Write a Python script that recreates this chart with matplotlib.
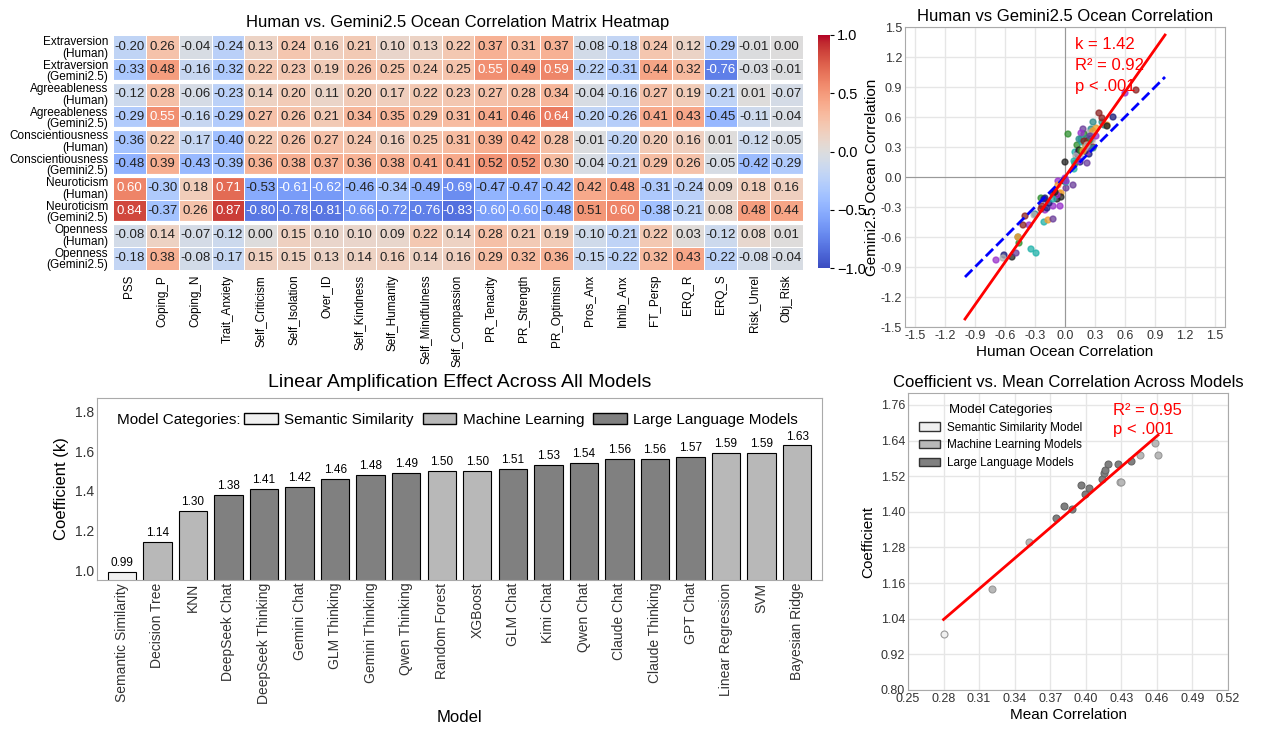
import numpy as np
import matplotlib.pyplot as plt
from matplotlib.patches import Patch

plt.rcParams["font.family"] = ["Liberation Sans", "DejaVu Sans"]

# ---- heatmap data ----
row_labels = ["Extraversion\n(Human)", "Extraversion\n(Gemini2.5)",
              "Agreeableness\n(Human)", "Agreeableness\n(Gemini2.5)",
              "Conscientiousness\n(Human)", "Conscientiousness\n(Gemini2.5)",
              "Neuroticism\n(Human)", "Neuroticism\n(Gemini2.5)",
              "Openness\n(Human)", "Openness\n(Gemini2.5)"]
col_labels = ["PSS", "Coping_P", "Coping_N", "Trait_Anxiety", "Self_Criticism",
              "Self_Isolation", "Over_ID", "Self_Kindness", "Self_Humanity",
              "Self_Mindfulness", "Self_Compassion", "PR_Tenacity", "PR_Strength",
              "PR_Optimism", "Pros_Anx", "Inhib_Anx", "FT_Persp", "ERQ_R", "ERQ_S",
              "Risk_Unrel", "Obj_Risk"]
heat = np.array([
    [-0.20, 0.26, -0.04, -0.24, 0.13, 0.24, 0.16, 0.21, 0.10, 0.13, 0.22, 0.37, 0.31, 0.37, -0.08, -0.18, 0.24, 0.12, -0.29, -0.01, 0.00],
    [-0.33, 0.48, -0.16, -0.32, 0.22, 0.23, 0.19, 0.26, 0.25, 0.24, 0.25, 0.55, 0.49, 0.59, -0.22, -0.31, 0.44, 0.32, -0.76, -0.03, -0.01],
    [-0.12, 0.28, -0.06, -0.23, 0.14, 0.20, 0.11, 0.20, 0.17, 0.22, 0.23, 0.27, 0.28, 0.34, -0.04, -0.16, 0.27, 0.19, -0.21, 0.01, -0.07],
    [-0.29, 0.55, -0.16, -0.29, 0.27, 0.26, 0.21, 0.34, 0.35, 0.29, 0.31, 0.41, 0.46, 0.64, -0.20, -0.26, 0.41, 0.43, -0.45, -0.11, -0.04],
    [-0.36, 0.22, -0.17, -0.40, 0.22, 0.26, 0.27, 0.24, 0.16, 0.25, 0.31, 0.39, 0.42, 0.28, -0.01, -0.20, 0.20, 0.16, 0.01, -0.12, -0.05],
    [-0.48, 0.39, -0.43, -0.39, 0.36, 0.38, 0.37, 0.36, 0.38, 0.41, 0.41, 0.52, 0.52, 0.30, -0.04, -0.21, 0.29, 0.26, -0.05, -0.42, -0.29],
    [0.60, -0.30, 0.18, 0.71, -0.53, -0.61, -0.62, -0.46, -0.34, -0.49, -0.69, -0.47, -0.47, -0.42, 0.42, 0.48, -0.31, -0.24, 0.09, 0.18, 0.16],
    [0.84, -0.37, 0.26, 0.87, -0.80, -0.78, -0.81, -0.66, -0.72, -0.76, -0.83, -0.60, -0.60, -0.48, 0.51, 0.60, -0.38, -0.21, 0.08, 0.48, 0.44],
    [-0.08, 0.14, -0.07, -0.12, 0.00, 0.15, 0.10, 0.10, 0.09, 0.22, 0.14, 0.28, 0.21, 0.19, -0.10, -0.21, 0.22, 0.03, -0.12, 0.08, 0.01],
    [-0.18, 0.38, -0.08, -0.17, 0.15, 0.15, 0.13, 0.14, 0.16, 0.14, 0.16, 0.29, 0.32, 0.36, -0.15, -0.22, 0.32, 0.43, -0.22, -0.08, -0.04],
])
human_k = 1.42
human_r2 = 0.92

# ---- model data ----
models = ["Semantic Similarity", "Decision Tree", "KNN", "DeepSeek Chat", "DeepSeek Thinking",
          "Gemini Chat", "GLM Thinking", "Gemini Thinking", "Qwen Thinking", "Random Forest",
          "XGBoost", "GLM Chat", "Kimi Chat", "Qwen Chat", "Claude Chat", "Claude Thinking",
          "GPT Chat", "Linear Regression", "SVM", "Bayesian Ridge"]
coef = [0.99, 1.14, 1.30, 1.38, 1.41, 1.42, 1.46, 1.48, 1.49, 1.50,
        1.50, 1.51, 1.53, 1.54, 1.56, 1.56, 1.57, 1.59, 1.59, 1.63]
category = ["sem", "ml", "ml", "llm", "llm", "llm", "llm", "llm", "llm", "ml",
            "ml", "llm", "llm", "llm", "llm", "llm", "llm", "ml", "ml", "ml"]
mean_corr = [0.280, 0.321, 0.352, 0.375, 0.388, 0.382, 0.399, 0.403, 0.396, 0.429,
             0.430, 0.414, 0.415, 0.416, 0.427, 0.419, 0.438, 0.446, 0.461, 0.458]
models_r2 = 0.95

cat_color = {"sem": "#f0f0f0", "ml": "#b8b8b8", "llm": "#808080"}
cat_name = {"sem": "Semantic Similarity", "ml": "Machine Learning", "llm": "Large Language Models"}

fig = plt.figure(figsize=(12.62, 7.53), dpi=100)
W, H = 1262, 753


def box(l, t, r, b):
    return [l / W, 1 - b / H, (r - l) / W, (b - t) / H]


def style(ax, size=10):
    ax.set_facecolor("white")
    ax.grid(True, color="#e6e6e6", lw=1)
    ax.set_axisbelow(True)
    for s in ax.spines.values():
        s.set_color("#aaaaaa")
    ax.tick_params(colors="#333333", length=0, labelsize=size, pad=2)


# ---- heatmap ----
ax = fig.add_axes(box(113, 35, 803, 270))
cax = fig.add_axes(box(818, 35, 830, 268))
im = ax.pcolormesh(heat, cmap="coolwarm", vmin=-1, vmax=1, edgecolors="white", linewidth=0.5)
ax.set_xlim(0, heat.shape[1])
ax.set_ylim(heat.shape[0], 0)
for i in range(heat.shape[0]):
    for j in range(heat.shape[1]):
        v = heat[i, j]
        ax.text(j + 0.5, i + 0.5, f"{v:.2f}", ha="center", va="center", fontsize=9.5,
                color="white" if abs(v) > 0.53 else "#222222")
for y in [2, 4, 6, 8]:
    ax.axhline(y, color="white", lw=3)
ax.set_xticks(np.arange(heat.shape[1]) + 0.5)
ax.set_xticklabels(col_labels, rotation=90, fontsize=8.5)
ax.set_yticks(np.arange(heat.shape[0]) + 0.5)
ax.set_yticklabels(row_labels, fontsize=8.5, linespacing=0.95)
ax.tick_params(length=0)
for s in ax.spines.values():
    s.set_visible(False)
ax.set_title("Human vs. Gemini2.5 Ocean Correlation Matrix Heatmap", fontsize=12, pad=6)
cb = fig.colorbar(im, cax=cax, ticks=[-1, -0.5, 0, 0.5, 1])
cb.ax.tick_params(labelsize=10.5, length=3, pad=2)
cb.outline.set_visible(False)

# ---- ocean scatter ----
ax = fig.add_axes(box(905, 27, 1225, 327))
style(ax, 9)
pal = ["#9932cc", "#2e8b8b", "#f0a030", "#8b2323", "#222222", "#1f1f7a",
       "#b0b0b0", "#2f8f2f", "#20b2aa", "#6a3d9a"]
hx = heat[0::2].ravel()
gy = heat[1::2].ravel()
cols = [pal[j % len(pal)] for _ in range(5) for j in range(heat.shape[1])]
ax.scatter(hx, gy, c=cols, s=18, alpha=0.75, zorder=3)
xl = np.array([-1, 1])
ax.plot(xl, xl, "b--", lw=2, zorder=4)
ax.plot(xl, human_k * xl, "r-", lw=2, zorder=5)
ax.axhline(0, color="#999999", lw=0.8)
ax.axvline(0, color="#999999", lw=0.8)
tk = np.arange(-1.5, 1.51, 0.3)
ax.set_xticks(tk)
ax.set_yticks(tk)
ax.set_xticklabels([f"{t:.1f}" for t in tk])
ax.set_yticklabels([f"{t:.1f}" for t in tk])
ax.set_xlim(-1.6, 1.6)
ax.set_ylim(-1.5, 1.5)
ax.text(0.1, 1.4, f"k = {human_k:.2f}\nR² = {human_r2:.2f}\np < .001", color="red",
        fontsize=12, va="top", linespacing=1.5)
ax.set_xlabel("Human Ocean Correlation", fontsize=11, labelpad=2)
ax.set_ylabel("Gemini2.5 Ocean Correlation", fontsize=11, labelpad=1)
ax.set_title("Human vs Gemini2.5 Ocean Correlation", fontsize=12, pad=4)

# ---- bar chart ----
ax = fig.add_axes(box(97, 398, 822, 580))
style(ax)
ax.grid(False)
x = np.arange(len(models))
ax.bar(x, coef, color=[cat_color[c] for c in category], edgecolor="black", lw=0.8, width=0.8)
for xi, v in zip(x, coef):
    ax.text(xi, v + 0.015, f"{v:.2f}", ha="center", va="bottom", fontsize=8.5)
ax.set_ylim(0.95, 1.87)
ax.set_yticks([1.0, 1.2, 1.4, 1.6, 1.8])
ax.set_xlim(-0.7, len(models) - 0.3)
ax.set_xticks(x)
ax.set_xticklabels(models, rotation=90, fontsize=10)
ax.set_ylabel("Coefficient (k)", fontsize=12)
ax.set_xlabel("Model", fontsize=12)
ax.set_title("Linear Amplification Effect Across All Models", fontsize=14, pad=8)
ax.text(0.028, 0.88, "Model Categories:", transform=ax.transAxes, fontsize=11, va="center")
ax.legend([Patch(facecolor=cat_color[c], edgecolor="black") for c in ["sem", "ml", "llm"]],
          [cat_name[c] for c in ["sem", "ml", "llm"]], ncol=3, loc="center left",
          bbox_to_anchor=(0.195, 0.88), frameon=False, fontsize=11, handlelength=2.2,
          columnspacing=0.6, handletextpad=0.4, borderaxespad=0)

# ---- coefficient vs mean corr ----
ax = fig.add_axes(box(908, 393, 1228, 690))
style(ax, 9)
for c, ec in [("sem", "#999999"), ("ml", "#999999"), ("llm", "#666666")]:
    xs = [m for m, k in zip(mean_corr, category) if k == c]
    ys = [v for v, k in zip(coef, category) if k == c]
    ax.scatter(xs, ys, color=cat_color[c], edgecolor=ec, s=25, lw=0.8, zorder=3)
mc = np.array(mean_corr)
p = np.polyfit(mc, coef, 1)
xx = np.array([mc.min(), mc.max()])
ax.plot(xx, np.polyval(p, xx), "r-", lw=2, zorder=4)
ax.set_xlim(0.25, 0.52)
ax.set_ylim(0.80, 1.80)
xt = np.arange(0.25, 0.521, 0.03)
yt = np.arange(0.80, 1.77, 0.12)
ax.set_xticks(xt)
ax.set_yticks(yt)
ax.set_xticklabels([f"{t:.2f}" for t in xt])
ax.set_yticklabels([f"{t:.2f}" for t in yt])
ax.text(0.423, 1.765, f"R² = {models_r2:.2f}\np < .001", color="red", fontsize=12,
        va="top", ha="left", linespacing=1.3)
ax.legend([Patch(facecolor=cat_color[c], edgecolor="#333333") for c in ["sem", "ml", "llm"]],
          ["Semantic Similarity Model", "Machine Learning Models", "Large Language Models"],
          title="Model Categories", loc="upper left", frameon=False, fontsize=8.5,
          title_fontsize=9.5, handlelength=1.8, handletextpad=0.6)
ax.set_xlabel("Mean Correlation", fontsize=11, labelpad=2)
ax.set_ylabel("Coefficient", fontsize=11)
ax.set_title("Coefficient vs. Mean Correlation Across Models", fontsize=12, pad=4)

fig.savefig("out.png", dpi=100, facecolor="white")
